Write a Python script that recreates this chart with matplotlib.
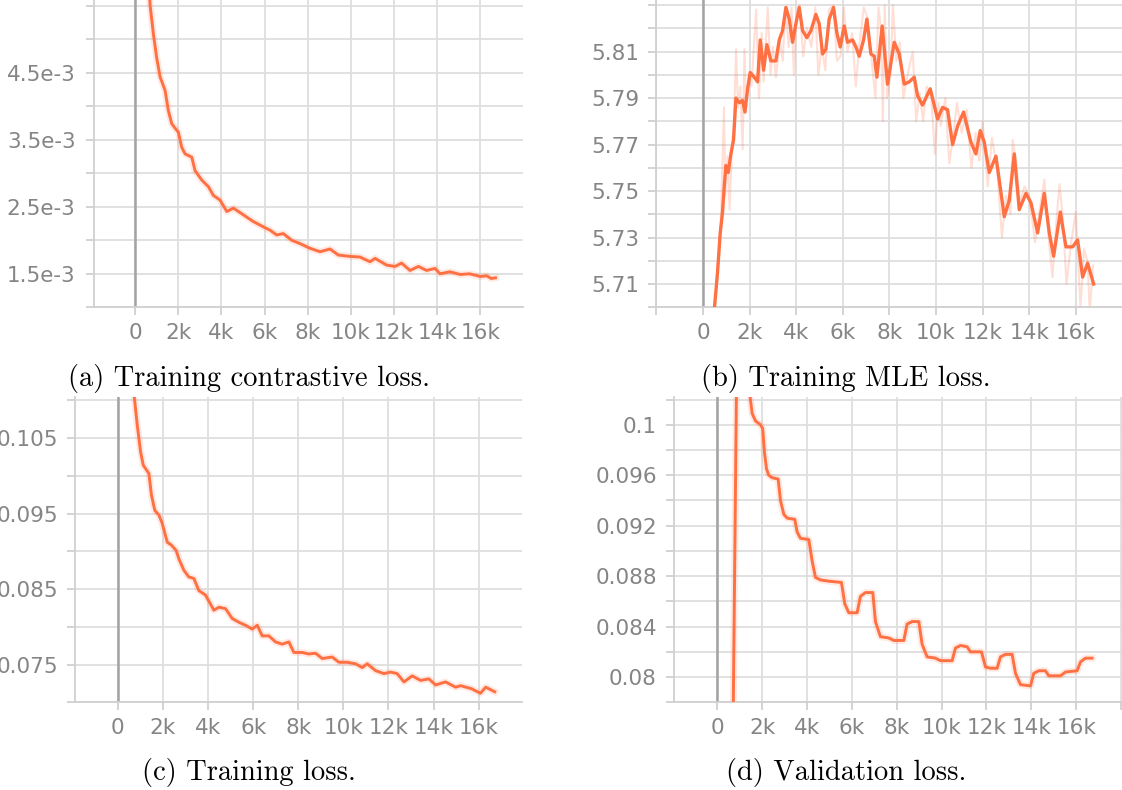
import matplotlib.pyplot as plt
from matplotlib.ticker import FixedLocator, FixedFormatter

# x axis (training steps)
x_ticks = [-2000, 0, 2000, 4000, 6000, 8000, 10000, 12000, 14000, 16000, 18000]
x_labels = ['', '0', '2k', '4k', '6k', '8k', '10k', '12k', '14k', '16k', '']

# (a) training contrastive loss
a_steps = [550, 700, 850, 1000, 1160, 1390, 1540, 1700, 2010, 2160,
           2320, 2630, 2780, 3090, 3400, 3630, 3940, 4250, 4560, 5020,
           5480, 5950, 6260, 6560, 6870, 7260, 7650, 8110, 8570, 9030,
           9420, 9960, 10420, 10890, 11120, 11660, 12050, 12350, 12740, 13130,
           13510, 13900, 14130, 14590, 15060, 15500, 16000, 16300, 16500, 16700]
a_loss = [0.00630, 0.00550, 0.00508, 0.00473, 0.00444, 0.00424, 0.00394, 0.00374, 0.00361, 0.00339,
          0.00329, 0.00324, 0.00304, 0.00290, 0.00280, 0.00267, 0.00260, 0.00243, 0.00248, 0.00238,
          0.00228, 0.00220, 0.00215, 0.00208, 0.00210, 0.00200, 0.00195, 0.00188, 0.00183, 0.00187,
          0.00178, 0.00176, 0.00175, 0.00168, 0.00173, 0.00163, 0.00161, 0.00166, 0.00155, 0.00161,
          0.00155, 0.00158, 0.00150, 0.00153, 0.00149, 0.00150, 0.00146, 0.00147, 0.00143, 0.00144]
a_yticks = [0.0010, 0.0015, 0.0020, 0.0025, 0.0030, 0.0035, 0.0040, 0.0045, 0.0050, 0.0055]
a_ylabels = ['', '1.5e-3', '', '2.5e-3', '', '3.5e-3', '', '4.5e-3', '', '']

# (b) training MLE loss, smoothed and raw
b_steps = [450, 624, 739, 839, 911, 983, 1083, 1197, 1311, 1412,
           1555, 1698, 1798, 1913, 2027, 2199, 2342, 2457, 2600, 2743,
           2914, 3129, 3272, 3415, 3558, 3701, 3844, 3987, 4130, 4273,
           4459, 4631, 4845, 4988, 5131, 5274, 5417, 5603, 5746, 5889,
           6061, 6204, 6419, 6562, 6705, 6891, 7034, 7206, 7349, 7463,
           7690, 7921, 8207, 8422, 8637, 8851, 9066, 9209, 9424, 9753,
           10068, 10282, 10497, 10712, 10926, 11184, 11499, 11713, 11900, 12071,
           12286, 12572, 12930, 13144, 13359, 13574, 13860, 14075, 14361, 14647,
           14862, 15048, 15334, 15577, 15863, 16078, 16293, 16507, 16765]
b_loss = [5.695, 5.715, 5.732, 5.741, 5.752, 5.761, 5.758, 5.766, 5.772, 5.790,
          5.788, 5.789, 5.784, 5.794, 5.801, 5.799, 5.797, 5.815, 5.802, 5.813,
          5.806, 5.806, 5.815, 5.819, 5.829, 5.824, 5.814, 5.822, 5.829, 5.819,
          5.816, 5.819, 5.826, 5.822, 5.809, 5.811, 5.824, 5.829, 5.818, 5.812,
          5.821, 5.814, 5.815, 5.812, 5.808, 5.815, 5.824, 5.809, 5.808, 5.799,
          5.821, 5.796, 5.814, 5.809, 5.796, 5.797, 5.799, 5.791, 5.787, 5.794,
          5.781, 5.786, 5.785, 5.770, 5.778, 5.784, 5.771, 5.766, 5.776, 5.771,
          5.758, 5.765, 5.739, 5.746, 5.766, 5.742, 5.749, 5.745, 5.732, 5.749,
          5.732, 5.722, 5.741, 5.726, 5.726, 5.729, 5.713, 5.719, 5.710]
b_raw_steps = [480, 650, 760, 900, 960, 1050, 1140, 1250, 1330, 1420,
               1500, 1600, 1700, 1780, 1850, 1960, 2080, 2280, 2400, 2520,
               2600, 2780, 2900, 3000, 3130, 3300, 3420, 3540, 3680, 3800,
               3900, 4000, 4150, 4300, 4450, 4650, 4820, 4950, 5100, 5250,
               5400, 5600, 5750, 5900, 6050, 6200, 6400, 6560, 6700, 6900,
               7050, 7250, 7400, 7530, 7640, 7720, 7800, 7900, 8050, 8150,
               8300, 8450, 8600, 8780, 9000, 9150, 9300, 9450, 9600, 9800,
               9950, 10100, 10200, 10400, 10570, 10750, 10900, 11100, 11320, 11520,
               11700, 11860, 12000, 12220, 12400, 12620, 12830, 13000, 13200, 13290,
               13450, 13600, 13800, 14000, 14250, 14420, 14650, 14850, 15000, 15150,
               15300, 15450, 15600, 15800, 16000, 16200, 16350, 16500, 16600, 16740]
b_raw_loss = [5.700, 5.720, 5.736, 5.786, 5.748, 5.765, 5.742, 5.770, 5.780, 5.811,
              5.786, 5.795, 5.768, 5.811, 5.784, 5.800, 5.795, 5.828, 5.790, 5.818,
              5.797, 5.829, 5.800, 5.812, 5.799, 5.815, 5.806, 5.829, 5.812, 5.829,
              5.800, 5.823, 5.830, 5.808, 5.820, 5.812, 5.829, 5.800, 5.812, 5.802,
              5.828, 5.830, 5.806, 5.808, 5.829, 5.810, 5.818, 5.795, 5.812, 5.829,
              5.825, 5.805, 5.790, 5.829, 5.820, 5.780, 5.830, 5.790, 5.800, 5.830,
              5.806, 5.814, 5.790, 5.800, 5.810, 5.780, 5.792, 5.780, 5.795, 5.790,
              5.766, 5.788, 5.778, 5.790, 5.762, 5.775, 5.788, 5.775, 5.785, 5.760,
              5.775, 5.763, 5.780, 5.752, 5.773, 5.760, 5.730, 5.748, 5.740, 5.772,
              5.762, 5.745, 5.752, 5.748, 5.728, 5.740, 5.755, 5.728, 5.713, 5.735,
              5.753, 5.738, 5.710, 5.728, 5.741, 5.700, 5.725, 5.720, 5.698, 5.718]
b_yticks = [5.70, 5.71, 5.72, 5.73, 5.74, 5.75, 5.76, 5.77, 5.78, 5.79, 5.80, 5.81, 5.82, 5.83]
b_ylabels = ['', '5.71', '', '5.73', '', '5.75', '', '5.77', '', '5.79', '', '5.81', '', '']

# (c) training loss
c_steps = [600, 860, 1005, 1125, 1375, 1490, 1640, 1820, 1965, 2190,
           2380, 2585, 2705, 2925, 3145, 3370, 3590, 3885, 4110, 4255,
           4480, 4775, 5070, 5365, 5660, 5955, 6180, 6400, 6695, 6990,
           7285, 7580, 7805, 8175, 8470, 8765, 9060, 9505, 9800, 10170,
           10540, 10835, 11055, 11425, 11795, 12090, 12385, 12685, 13050, 13420,
           13790, 14090, 14530, 14975, 15200, 15680, 16075, 16310, 16710]
c_loss = [0.1140, 0.1067, 0.1032, 0.1014, 0.1003, 0.0974, 0.0954, 0.0948, 0.0937, 0.0912,
          0.0908, 0.0901, 0.0890, 0.0875, 0.0866, 0.0864, 0.0848, 0.0842, 0.0830, 0.0822,
          0.0826, 0.0824, 0.0811, 0.0806, 0.0802, 0.0797, 0.0802, 0.0788, 0.0788, 0.0780,
          0.0777, 0.0780, 0.0766, 0.0766, 0.0764, 0.0765, 0.0758, 0.0760, 0.0753, 0.0753,
          0.0751, 0.0746, 0.0751, 0.0742, 0.0738, 0.0740, 0.0738, 0.0727, 0.0735, 0.0729,
          0.0731, 0.0723, 0.0727, 0.0720, 0.0722, 0.0718, 0.0712, 0.0720, 0.0714]
c_yticks = [0.070, 0.075, 0.080, 0.085, 0.090, 0.095, 0.100, 0.105, 0.110]
c_ylabels = ['', '0.075', '', '0.085', '', '0.095', '', '0.105', '']

# (d) validation loss
d_steps = [700, 880, 1150, 1420, 1484, 1561, 1709, 1932, 2030, 2110,
           2200, 2300, 2452, 2719, 2823, 2971, 3120, 3461, 3565, 3713,
           4084, 4233, 4381, 4604, 4975, 5539, 5688, 5866, 6237, 6385,
           6608, 6935, 7053, 7276, 7647, 7870, 8316, 8464, 8687, 8984,
           9132, 9355, 9726, 9949, 10469, 10617, 10840, 11137, 11286, 11776,
           11954, 12177, 12474, 12622, 12845, 13142, 13291, 13513, 13959, 14107,
           14330, 14627, 14775, 15295, 15518, 16038, 16186, 16409, 16700]
d_loss = [0.0740, 0.1060, 0.1060, 0.1030, 0.1020, 0.1009, 0.1003, 0.1000, 0.0997, 0.0978,
          0.0965, 0.0960, 0.0958, 0.0957, 0.0940, 0.0929, 0.0926, 0.0925, 0.0915, 0.0910,
          0.0909, 0.0892, 0.0879, 0.0877, 0.0876, 0.0875, 0.0858, 0.0851, 0.0851, 0.0864,
          0.0867, 0.0867, 0.0844, 0.0832, 0.0831, 0.0829, 0.0829, 0.0842, 0.0844, 0.0844,
          0.0826, 0.0816, 0.0815, 0.0813, 0.0813, 0.0823, 0.0825, 0.0824, 0.0820, 0.0820,
          0.0808, 0.0807, 0.0807, 0.0816, 0.0818, 0.0818, 0.0803, 0.0794, 0.0793, 0.0803,
          0.0805, 0.0805, 0.0801, 0.0801, 0.0804, 0.0805, 0.0812, 0.0815, 0.0815]
d_yticks = [0.078, 0.080, 0.082, 0.084, 0.086, 0.088, 0.090, 0.092, 0.094, 0.096, 0.098, 0.100, 0.102]
d_ylabels = ['', '0.08', '', '0.084', '', '0.088', '', '0.092', '', '0.096', '', '0.1', '']

captions = ['(a) Training contrastive loss.', '(b) Training MLE loss.',
            '(c) Training loss.', '(d) Validation loss.']

ORANGE = '#ff7043'
W, H = 1122, 790
fig = plt.figure(figsize=(W / 100, H / 100), dpi=100)


def panel(l, r, t, b):
    # axes box given in pixels from the top-left corner
    return fig.add_axes([l / W, 1 - b / H, (r - l) / W, (b - t) / H])


def style(ax, xlim, ylim, yticks, ylabels, ypad):
    ax.set_xlim(xlim)
    ax.set_ylim(ylim)
    ax.xaxis.set_major_locator(FixedLocator(x_ticks))
    ax.xaxis.set_major_formatter(FixedFormatter(x_labels))
    ax.yaxis.set_major_locator(FixedLocator(yticks))
    ax.yaxis.set_major_formatter(FixedFormatter(ylabels))
    ax.grid(True, color='#dedede', lw=1.3)
    ax.set_axisbelow(True)
    for s in ['top', 'right']:
        ax.spines[s].set_visible(False)
    for s in ['left', 'bottom']:
        ax.spines[s].set_color('#d0d0d0')
        ax.spines[s].set_linewidth(1.3)
    ax.tick_params(colors='#d0d0d0', labelcolor='#858585', labelsize=15.5,
                   length=6, width=1.3)
    ax.tick_params(axis='x', pad=5.5)
    ax.tick_params(axis='y', pad=ypad)
    ax.axvline(0, color='#a3a3a3', lw=1.8, zorder=1.5)


def curve(ax, x, y):
    ax.plot(x, y, color=ORANGE, lw=5, alpha=0.15, zorder=2)
    ax.plot(x, y, color=ORANGE, lw=2.1, zorder=3)


ax = panel(93.6, 523, 0, 307.3)
style(ax, (-1920, 17975), (0.0010, 0.005587), a_yticks, a_ylabels, 7)
curve(ax, a_steps, a_loss)

ax = panel(656.4, 1122, 0, 307.3)
style(ax, (-2000, 17983), (5.70, 5.8322), b_yticks, b_ylabels, 6)
ax.plot(b_raw_steps, b_raw_loss, color=ORANGE, lw=1.5, alpha=0.22, zorder=2)
ax.plot(b_steps, b_loss, color=ORANGE, lw=2.4, zorder=3)

ax = panel(75, 522, 397, 702.3)
style(ax, (-1902, 17920), (0.070, 0.11044), c_yticks, c_ylabels, 6)
curve(ax, c_steps, c_loss)

ax = panel(673.6, 1122, 397, 702.3)
style(ax, (-1938, 18036), (0.078, 0.1022), d_yticks, d_ylabels, 6)
curve(ax, d_steps, d_loss)

cap_pos = [(249, 386), (846, 386), (249, 780), (846, 780)]
for (cx, cy), txt in zip(cap_pos, captions):
    fig.text(cx / W, 1 - cy / H, txt, ha='center', va='baseline',
             fontsize=20.5, family='cmr10')

fig.savefig('out.png', dpi=100)
